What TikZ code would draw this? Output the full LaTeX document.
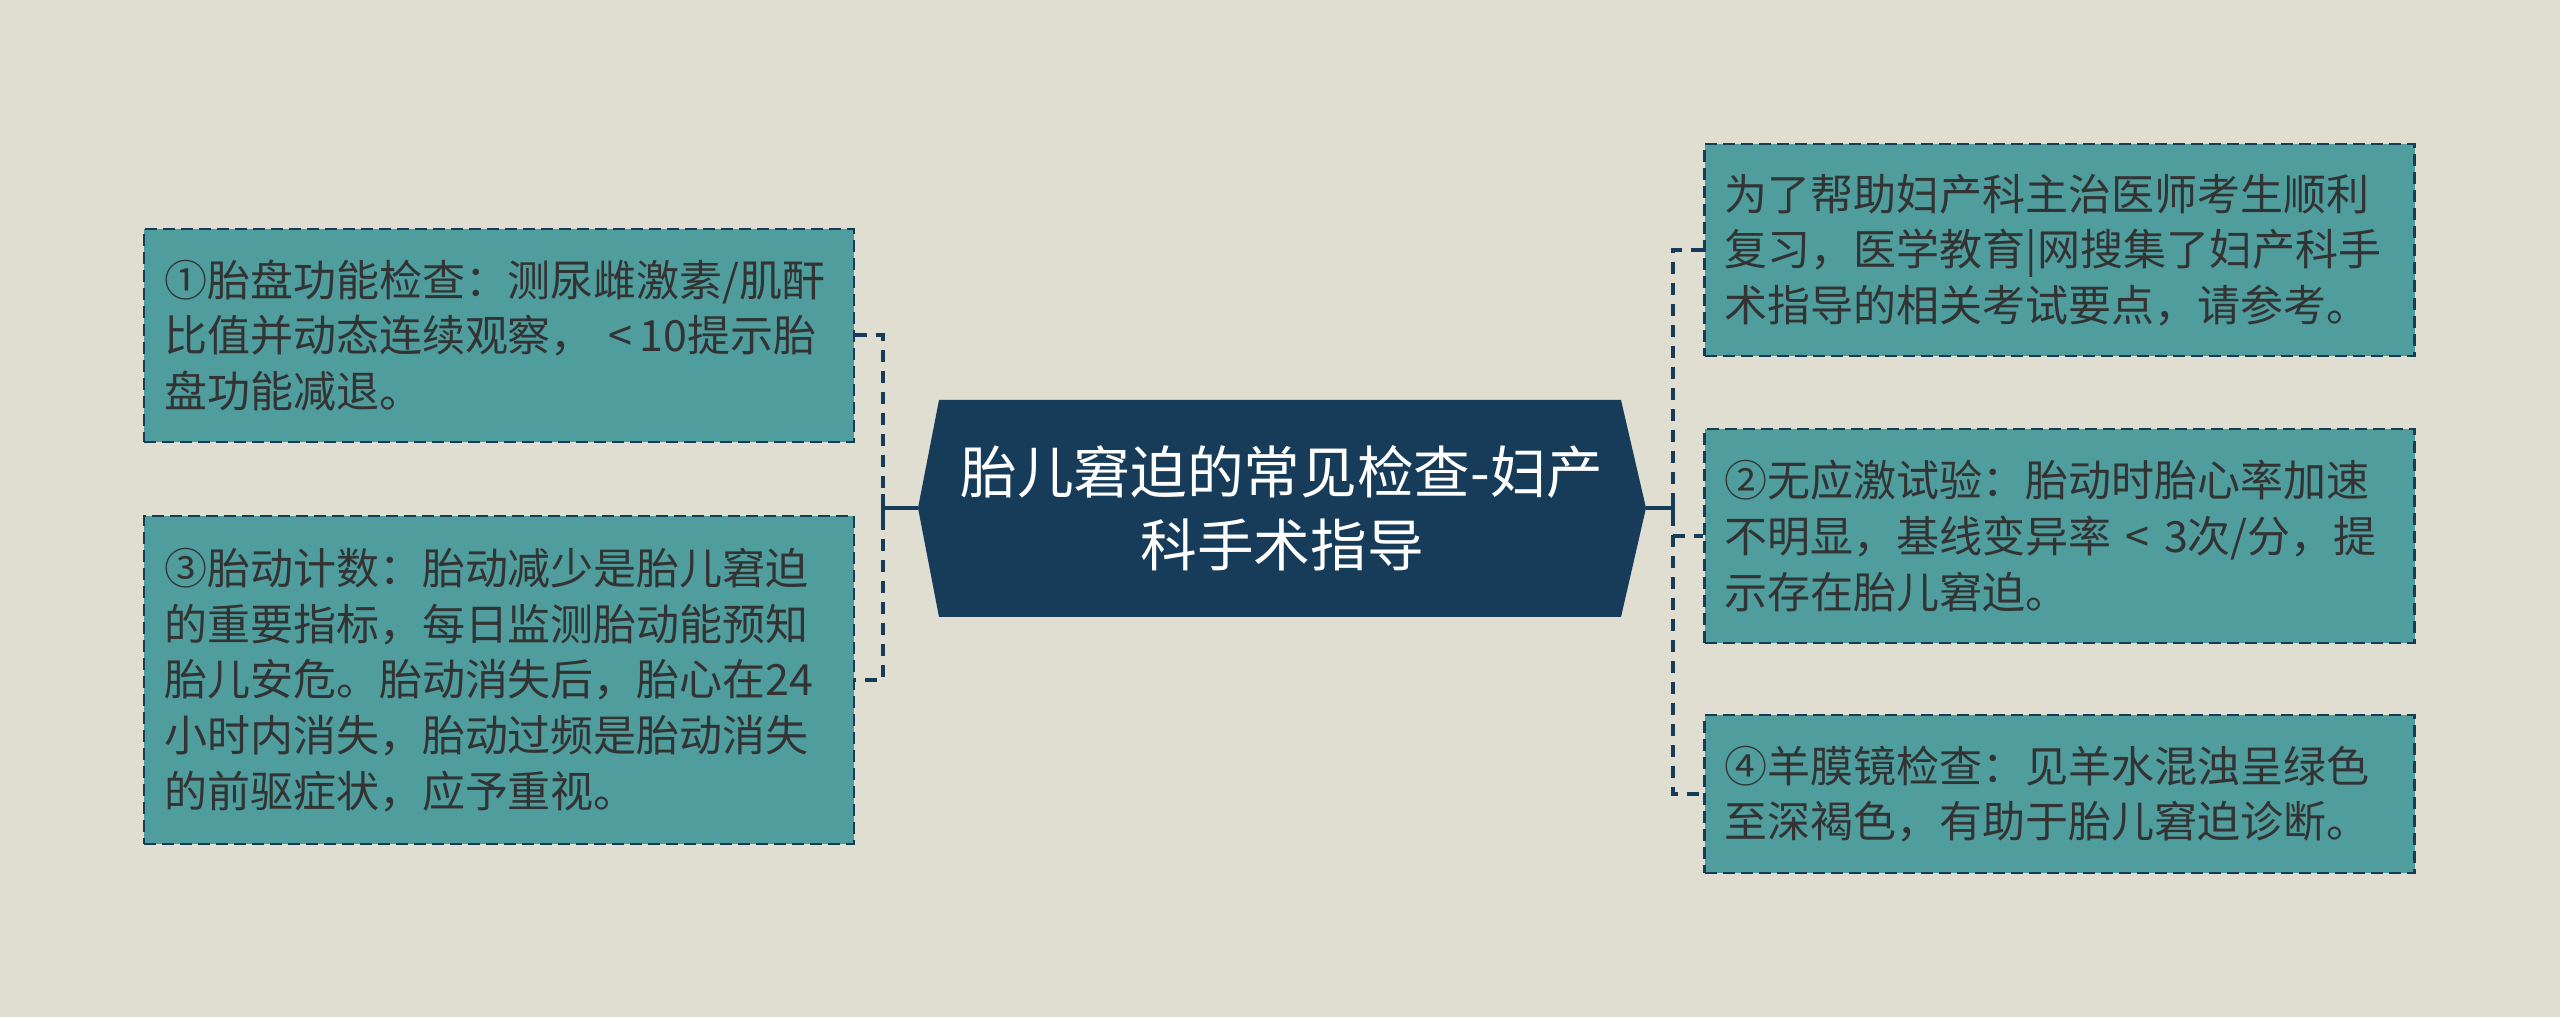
\documentclass[tikz,border=0pt]{standalone}
\usepackage{fontspec}
\newfontfamily\cjk{Noto Sans CJK SC}
\definecolor{bgc}{HTML}{E0DED0}
\definecolor{teal}{HTML}{4F9D9D}
\definecolor{navy}{HTML}{173C5A}
\definecolor{txt}{HTML}{333333}
\tikzset{
  leaf/.style={draw=navy, line width=0.8pt, dash pattern=on 3.6pt off 1.8pt, fill=teal,
    text=txt, font=\cjk\fontsize{12.9pt}{16.7pt}\selectfont, align=left,
    text width=201pt, inner xsep=6pt, inner ysep=0pt, minimum width=213pt, anchor=center},
  conn/.style={draw=navy, line width=1.2pt, dash pattern=on 3.6pt off 2.7pt},
  solidconn/.style={draw=navy, line width=1.2pt},
}
\begin{document}
\begin{tikzpicture}[x=0.3pt,y=-0.3pt]
\useasboundingbox (0,0) rectangle (2560,1017);
\fill[bgc] (0,0) rectangle (2560,1017);

% central hexagon
\fill[navy] (939,400) -- (1621,400) -- (1646,508) -- (1621,617) -- (939,617) -- (918,508) -- cycle;
\coordinate (cL) at (918,508);
\coordinate (cR) at (1646,508);
\node[text=white, font=\cjk\fontsize{17pt}{22pt}\selectfont, align=center] (center) at (1282,508)
  {胎儿窘迫的常见检查-妇产\\科手术指导};

% left boxes
\node[leaf, minimum height=63.9pt] (b1) at (499,335.5)
  {①胎盘功能检查：测尿雌激素/肌酐\\比值并动态连续观察， <\,10提示胎\\盘功能减退。};
\node[leaf, minimum height=98.4pt] (b3) at (499,680)
  {③胎动计数：胎动减少是胎儿窘迫\\的重要指标，每日监测胎动能预知\\胎儿安危。胎动消失后，胎心在24\\小时内消失，胎动过频是胎动消失\\的前驱症状，应予重视。};

% right boxes
\node[leaf, minimum height=63.6pt] (rA) at (2059.5,250)
  {为了帮助妇产科主治医师考生顺利\\复习，医学教育|网搜集了妇产科手\\术指导的相关考试要点，请参考。};
\node[leaf, minimum height=64.2pt] (rB) at (2059.5,536)
  {②无应激试验：胎动时胎心率加速\\不明显，基线变异率 < 3次/分，提\\示存在胎儿窘迫。};
\node[leaf, minimum height=47.4pt] (rC) at (2059.5,794)
  {④羊膜镜检查：见羊水混浊呈绿色\\至深褐色，有助于胎儿窘迫诊断。};

% left connectors
\coordinate (lj) at (883,508);
\draw[conn] (b1.east) -- (883,335.5) -- (883,680) -- (b3.east);
\draw[solidconn] (cL) -- (lj);
\draw[solidconn] (883,494) -- (883,522);

% right connectors
\coordinate (rj) at (1673,508);
\draw[conn] (rA.west) -- (1673,250) -- (1673,794) -- (rC.west);
\draw[conn] (1673,536) -- (rB.west);
\draw[solidconn] (cR) -- (rj);
\draw[solidconn] (1673,494) -- (1673,522);
\end{tikzpicture}
\end{document}
